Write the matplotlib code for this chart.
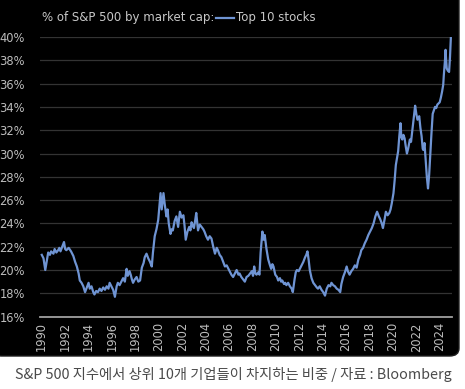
import matplotlib
matplotlib.use('Agg')
import matplotlib.pyplot as plt
from matplotlib.patches import FancyBboxPatch
from matplotlib.lines import Line2D

# share of S&P 500 market cap held by the top 10 stocks
years = [
    1990.0, 1990.15, 1990.3, 1990.45, 1990.55, 1990.7, 1990.8, 1991.0, 1991.1, 1991.25,
    1991.4, 1991.5, 1991.6, 1991.75, 1991.9, 1992.0, 1992.1, 1992.3, 1992.5, 1992.7,
    1992.85, 1993.0, 1993.15, 1993.25, 1993.4, 1993.55, 1993.7, 1993.85, 1994.0, 1994.1,
    1994.25, 1994.4, 1994.5, 1994.65, 1994.8, 1994.95, 1995.1, 1995.25, 1995.4, 1995.55,
    1995.7, 1995.8, 1995.95, 1996.1, 1996.25, 1996.4, 1996.5, 1996.65, 1996.8, 1996.95,
    1997.1, 1997.25, 1997.35, 1997.5, 1997.6, 1997.7, 1997.8, 1997.95, 1998.1, 1998.25,
    1998.4, 1998.55, 1998.7, 1998.8, 1998.95, 1999.1, 1999.25, 1999.4, 1999.5, 1999.65,
    1999.8, 1999.95, 2000.05, 2000.15, 2000.25, 2000.4, 2000.5, 2000.65, 2000.75, 2000.85,
    2001.0, 2001.1, 2001.2, 2001.35, 2001.5, 2001.65, 2001.8, 2001.95, 2002.1, 2002.2,
    2002.3, 2002.45, 2002.6, 2002.7, 2002.8, 2002.9, 2003.0, 2003.1, 2003.2, 2003.35,
    2003.5, 2003.65, 2003.8, 2003.9, 2004.05, 2004.2, 2004.35, 2004.5, 2004.65, 2004.8,
    2004.95, 2005.05, 2005.2, 2005.35, 2005.5, 2005.65, 2005.8, 2005.9, 2006.05, 2006.2,
    2006.35, 2006.5, 2006.65, 2006.8, 2006.9, 2007.05, 2007.2, 2007.35, 2007.5, 2007.65,
    2007.8, 2007.95, 2008.05, 2008.15, 2008.25, 2008.35, 2008.5, 2008.6, 2008.7, 2008.85,
    2008.95, 2009.05, 2009.2, 2009.35, 2009.5, 2009.6, 2009.7, 2009.8, 2009.95, 2010.1,
    2010.2, 2010.35, 2010.45, 2010.55, 2010.7, 2010.8, 2010.9, 2011.05, 2011.2, 2011.35,
    2011.45, 2011.6, 2011.7, 2011.8, 2011.95, 2012.05, 2012.2, 2012.35, 2012.5, 2012.6,
    2012.7, 2012.8, 2012.9, 2013.05, 2013.2, 2013.35, 2013.5, 2013.6, 2013.75, 2013.9,
    2014.05, 2014.2, 2014.35, 2014.5, 2014.65, 2014.75, 2014.9, 2015.05, 2015.2, 2015.35,
    2015.5, 2015.6, 2015.75, 2015.9, 2016.05, 2016.15, 2016.3, 2016.45, 2016.6, 2016.75,
    2016.9, 2017.05, 2017.2, 2017.3, 2017.45, 2017.6, 2017.75, 2017.9, 2018.05, 2018.2,
    2018.35, 2018.5, 2018.65, 2018.8, 2018.9, 2019.05, 2019.15, 2019.3, 2019.4, 2019.55,
    2019.7, 2019.8, 2019.9, 2020.05, 2020.15, 2020.25, 2020.35, 2020.45, 2020.55, 2020.65,
    2020.72, 2020.8, 2020.9, 2021.0, 2021.1, 2021.2, 2021.3, 2021.45, 2021.55, 2021.7,
    2021.8, 2021.9, 2022.0, 2022.1, 2022.25, 2022.35, 2022.45, 2022.55, 2022.6, 2022.7,
    2022.8, 2022.9, 2023.0, 2023.1, 2023.2, 2023.3, 2023.4, 2023.5, 2023.6, 2023.7,
    2023.8, 2023.9, 2024.0, 2024.1, 2024.2, 2024.3, 2024.35, 2024.45, 2024.5, 2024.55,
    2024.6, 2024.7, 2024.8, 2024.88, 2024.95,
]
top10_share = [
    21.3, 21.0, 20.0, 20.9, 21.5, 21.3, 21.6, 21.4, 21.8, 21.5,
    21.7, 21.9, 21.6, 22.0, 22.4, 21.8, 21.7, 21.9, 21.6, 21.2,
    20.7, 20.3, 19.7, 19.1, 18.9, 18.6, 18.1, 18.5, 18.9, 18.4,
    18.6, 18.1, 17.9, 18.2, 18.1, 18.4, 18.2, 18.5, 18.3, 18.6,
    18.4, 18.9, 18.6, 18.3, 17.7, 18.6, 18.9, 18.7, 19.0, 19.3,
    19.0, 20.1, 19.5, 19.9, 19.6, 19.2, 18.9, 19.2, 19.4, 19.0,
    19.1, 20.2, 20.6, 21.1, 21.4, 21.0, 20.7, 20.3, 21.5, 22.9,
    23.5, 24.3, 25.4, 26.6, 25.2, 26.6, 25.7, 24.6, 25.2, 24.0,
    23.1, 23.5, 23.4, 24.2, 24.6, 23.7, 25.0, 24.5, 24.7, 23.8,
    22.6, 23.3, 23.7, 23.4, 24.1, 23.8, 23.6, 24.2, 24.9, 23.4,
    23.9, 23.7, 23.5, 23.3, 22.9, 22.6, 22.9, 22.7, 22.0, 21.4,
    21.9, 21.7, 21.3, 21.1, 20.7, 20.3, 20.4, 20.2, 19.9, 19.6,
    19.4, 19.7, 20.0, 19.6, 19.7, 19.4, 19.2, 19.0, 19.4, 19.5,
    19.7, 19.9, 19.5, 20.3, 19.7, 19.6, 19.8, 19.6, 21.5, 23.3,
    22.6, 23.0, 21.8, 20.9, 20.4, 20.1, 20.5, 20.3, 19.6, 19.4,
    19.1, 19.3, 19.0, 19.1, 18.8, 18.9, 18.7, 18.9, 18.6, 18.4,
    18.1, 19.2, 19.8, 20.0, 19.9, 20.1, 20.4, 20.7, 21.1, 21.3,
    21.6, 20.9, 20.0, 19.3, 18.9, 18.7, 18.5, 18.4, 18.6, 18.3,
    18.1, 17.8, 18.4, 18.7, 18.6, 18.9, 18.7, 18.6, 18.4, 18.3,
    18.1, 18.8, 19.4, 19.8, 20.3, 19.9, 19.6, 19.9, 20.1, 20.4,
    20.2, 20.9, 21.3, 21.7, 21.9, 22.3, 22.6, 23.0, 23.3, 23.6,
    24.0, 24.6, 25.0, 24.6, 24.4, 24.0, 23.6, 24.4, 25.0, 24.7,
    24.9, 25.2, 25.7, 26.6, 27.7, 29.0, 29.6, 30.2, 31.5, 32.6,
    31.4, 31.2, 31.6, 31.3, 30.6, 30.0, 30.4, 31.2, 31.0, 32.3,
    33.2, 34.1, 33.4, 32.9, 33.2, 32.2, 31.5, 30.4, 30.3, 30.9,
    29.4, 28.0, 27.0, 28.2, 30.0, 31.8, 33.4, 33.7, 34.0, 33.9,
    34.2, 34.3, 34.4, 34.8, 35.3, 35.9, 36.7, 38.0, 38.9, 38.0,
    37.3, 37.1, 37.0, 38.3, 39.9,
]
x_ticks = list(range(1990, 2025, 2))
y_ticks = list(range(16, 41, 2))

W, H = 465, 389
fig = plt.figure(figsize=(W / 100, H / 100), dpi=100)
fig.patch.set_facecolor('white')

# dark card behind the chart
card = FancyBboxPatch((-8 / W, 33 / H), (W + 2) / W, (H) / H,
                      boxstyle='round,pad=0,rounding_size=0.02',
                      transform=fig.transFigure, facecolor='#000000',
                      edgecolor='#1e1e1e', linewidth=1.0, zorder=-5)
fig.patches.append(card)

ax = fig.add_axes([40 / W, (H - 316.6) / H, 412 / W, (316.6 - 37) / H])
ax.set_zorder(2)
ax.patch.set_alpha(0)

ax.plot(years, top10_share, color='#6f94d3', lw=1.6, clip_on=False, zorder=3)

ax.set_xlim(1989.85, 2025.05)
ax.set_ylim(16, 40)
ax.set_yticks(y_ticks)
ax.set_yticklabels([f'{v}%' for v in y_ticks])
ax.set_xticks(x_ticks)
ax.set_xticklabels([str(v) for v in x_ticks], rotation=90)

ax.grid(axis='y', color='#333333', lw=0.9)
ax.grid(axis='x', visible=False)
for s in ['top', 'left', 'right']:
    ax.spines[s].set_visible(False)
ax.spines['bottom'].set_color('#a0a0a0')
ax.spines['bottom'].set_linewidth(1.3)

ax.tick_params(axis='y', length=0, pad=11, labelsize=8.3, labelcolor='#bdbdbd')
ax.tick_params(axis='x', length=0, pad=4, labelsize=8.3, labelcolor='#bdbdbd')
for lab in ax.get_yticklabels():
    lab.set_ha('right')

# title with inline legend
fig.text(42 / W, 1 - 17 / H, '% of S&P 500 by market cap:', color='#c8c8c8',
         fontsize=8.5, va='center', ha='left')
fig.lines.append(Line2D([216 / W, 234 / W], [1 - 18 / H, 1 - 18 / H],
                        transform=fig.transFigure, color='#6f94d3', lw=1.6))
fig.text(236 / W, 1 - 17 / H, 'Top 10 stocks', color='#c8c8c8',
         fontsize=8.5, va='center', ha='left')

# caption below the card
fig.text(233 / W, 1 - 375 / H,
         'S&P 500 지수에서 상위 10개 기업들이 차지하는 비중 / 자료 : Bloomberg',
         family=['Noto Sans CJK KR', 'DejaVu Sans'], color='#4a4a4a',
         fontsize=10.3, ha='center', va='center')

fig.savefig('out.png', dpi=100, facecolor=fig.get_facecolor())
